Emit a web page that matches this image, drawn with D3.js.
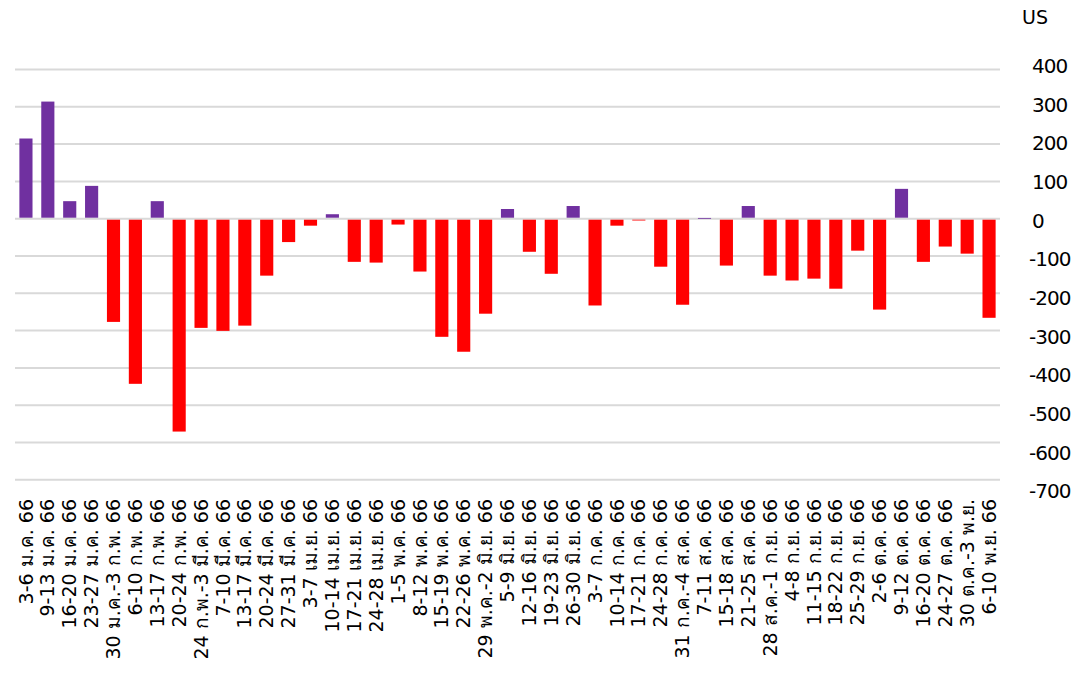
<!DOCTYPE html>
<html>
<head>
<meta charset="utf-8">
<script src="https://cdn.jsdelivr.net/npm/d3@7"></script>
<style>
  html, body { margin: 0; padding: 0; background: #fff; }
  svg { display: block; }
  text { font-family: "DejaVu Sans", sans-serif; fill: #000; }
</style>
</head>
<body>
<svg id="chart" width="1081" height="683"></svg>
<script>
// weekly net flow, 2566
const weeks = [
  '3-6 ม.ค. 66', '9-13 ม.ค. 66', '16-20 ม.ค. 66', '23-27 ม.ค. 66', '30 ม.ค.-3 ก.พ. 66',
  '6-10 ก.พ. 66', '13-17 ก.พ. 66', '20-24 ก.พ. 66', '24 ก.พ.-3 มี.ค. 66', '7-10 มี.ค. 66',
  '13-17 มี.ค. 66', '20-24 มี.ค. 66', '27-31 มี.ค. 66', '3-7 เม.ย. 66', '10-14 เม.ย. 66',
  '17-21 เม.ย. 66', '24-28 เม.ย. 66', '1-5 พ.ค. 66', '8-12 พ.ค. 66', '15-19 พ.ค. 66',
  '22-26 พ.ค. 66', '29 พ.ค.-2 มิ.ย. 66', '5-9 มิ.ย. 66', '12-16 มิ.ย. 66', '19-23 มิ.ย. 66',
  '26-30 มิ.ย. 66', '3-7 ก.ค. 66', '10-14 ก.ค. 66', '17-21 ก.ค. 66', '24-28 ก.ค. 66',
  '31 ก.ค.-4 ส.ค. 66', '7-11 ส.ค. 66', '15-18 ส.ค. 66', '21-25 ส.ค. 66', '28 ส.ค.-1 ก.ย. 66',
  '4-8 ก.ย. 66', '11-15 ก.ย. 66', '18-22 ก.ย. 66', '25-29 ก.ย. 66', '2-6 ต.ค. 66',
  '9-12 ต.ค. 66', '16-20 ต.ค. 66', '24-27 ต.ค. 66', '30 ต.ค.-3 พ.ย.', '6-10 พ.ย. 66'
];
const flows = [
  215, 314, 47, 88, -274,
  -440, 47, -568, -290, -298,
  -284, -150, -60, -16, 12,
  -113, -115, -13, -139, -314,
  -354, -252, 26, -86, -145,
  34, -230, -16, -1, -126,
  -228, 2, -123, 34, -150,
  -163, -158, -185, -83, -241,
  80, -113, -72, -91, -263
];
const yTicks = [400, 300, 200, 100, 0, -100, -200, -300, -400, -500, -600, -700];
const unitLabel = 'US';

const svg = d3.select('#chart');

const x = d3.scaleBand().domain(weeks).range([15, 1000])
  .paddingInner(0.4).paddingOuter(0.2);
const y = d3.scaleLinear().domain([400, -700]).range([69.5, 479.8]);
// tick labels in the source sit on a slightly wider pitch than the gridlines
const yLab = d3.scaleLinear().domain([400, -700]).range([65.7, 490.7]);

// gridlines
svg.append('g').selectAll('line').data(yTicks).enter().append('line')
  .attr('x1', 15).attr('x2', 1000)
  .attr('y1', (d) => y(d)).attr('y2', (d) => y(d))
  .attr('stroke', '#d9d9d9').attr('stroke-width', 2);

// bars
svg.append('g').selectAll('rect').data(flows).enter().append('rect')
  .attr('x', (d, i) => x(weeks[i]))
  .attr('width', x.bandwidth())
  .attr('y', (d) => d >= 0 ? y(d) : y(0) + 1)
  .attr('height', (d) => Math.max(0.8, Math.abs(y(d) - y(0)) - (d >= 0 ? 1 : 0)))
  .attr('fill', (d) => d >= 0 ? '#7030a0' : '#ff0000');

// right-hand value axis (plain hyphen minus, as in the source)
const ax = svg.append('g').attr('transform', 'translate(1031,0)')
  .call(d3.axisRight(yLab).tickValues(yTicks).tickSize(0).tickPadding(0)
    .tickFormat((d) => String(d)));
ax.select('.domain').remove();
ax.selectAll('text')
  .attr('x', (d) => d < 0 ? -2 : 1)
  .attr('text-anchor', 'start')
  .attr('dy', '0.35em')
  .style('font-size', '20px')
  .style('font-family', '"DejaVu Sans", sans-serif')
  .style('letter-spacing', '-1px')
  .attr('fill', '#000');

svg.append('text')
  .attr('x', 1022).attr('y', 24)
  .style('font-size', '19px')
  .text(unitLabel);

// category labels, rotated
svg.append('g').selectAll('text').data(weeks).enter().append('text')
  .attr('transform', (d) => `translate(${x(d) + x.bandwidth() / 2},499) rotate(-90)`)
  .attr('text-anchor', 'end')
  .attr('dy', '0.35em')
  .style('font-size', '19px')
  .text((d) => d);
</script>
</body>
</html>
